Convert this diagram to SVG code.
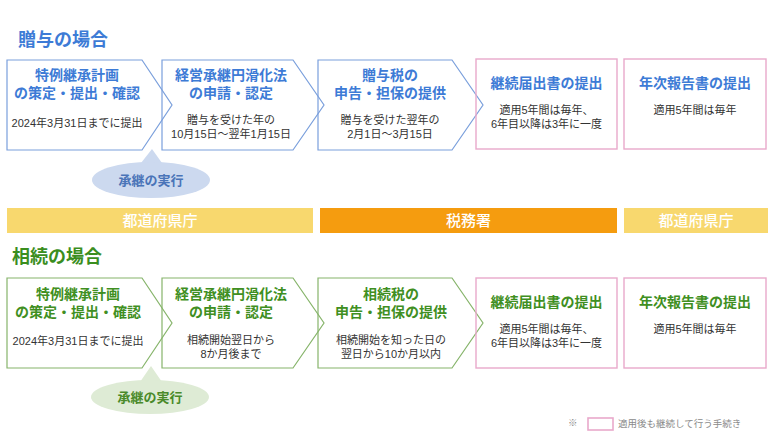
<svg xmlns="http://www.w3.org/2000/svg" width="780" height="438" viewBox="0 0 780 438">
<style>
text{font-family:"Liberation Sans","Noto Sans CJK JP",sans-serif;}
.bg{fill:#ffffff;}
.sec-b{font-size:18px;font-weight:700;fill:#3d7bd6;}
.sec-g{font-size:18px;font-weight:700;fill:#3a8e1e;}
.chev-b{fill:none;stroke:#7a9fdc;stroke-width:1.2;}
.chev-g{fill:none;stroke:#86b46a;stroke-width:1.2;}
.pink{fill:none;stroke:#e9a9cb;stroke-width:1.4;}
.tb{font-size:14px;font-weight:700;fill:#3d7bd6;text-anchor:middle;}
.tg{font-size:14px;font-weight:700;fill:#3f8f22;text-anchor:middle;}
.sub{font-size:11px;fill:#333333;text-anchor:middle;}
.band-y{fill:#f8d86e;}
.band-o{fill:#f59c0f;}
.band-t{font-family:"Noto Sans CJK JP",sans-serif;font-size:15px;font-weight:500;fill:#ffffff;text-anchor:middle;}
.bub-b{fill:#ccd9ef;}
.bub-g{fill:#deebd5;}
.bt-b{font-size:13px;font-weight:700;fill:#4a74b8;text-anchor:middle;}
.bt-g{font-size:13px;font-weight:700;fill:#4a8a2a;text-anchor:middle;}
.note{font-size:9.5px;fill:#8a8a8a;}
</style>
<rect class="bg" x="0" y="0" width="780" height="438"/>

<text class="sec-b" x="18" y="46">贈与の場合</text>
<text class="sec-g" x="12" y="263">相続の場合</text>

<g id="connectors"></g>

<!-- Gift row -->
<g id="g1">
<path class="chev-b" d="M7,60 H142 L172,105 L142,150 H7 Z"/>
<text class="tb" x="77" y="80">特例継承計画<tspan x="77" dy="18">の策定・提出・確認</tspan></text>
<text class="sub" x="77" y="127">2024年3月31日までに提出</text>
</g>
<g id="g2">
<path class="chev-b" d="M162,60 H293 L324,105 L293,150 H162 Z"/>
<text class="tb" x="231" y="80">経営承継円滑化法<tspan x="231" dy="18">の申請・認定</tspan></text>
<text class="sub" x="231" y="124">贈与を受けた年の<tspan x="231" dy="14">10月15日～翌年1月15日</tspan></text>
</g>
<g id="g3">
<path class="chev-b" d="M318,60 H452 L483,105 L452,150 H318 Z"/>
<text class="tb" x="390" y="80">贈与税の<tspan x="390" dy="18">申告・担保の提供</tspan></text>
<text class="sub" x="390" y="124">贈与を受けた翌年の<tspan x="390" dy="14">2月1日～3月15日</tspan></text>
</g>
<g id="g4">
<rect class="pink" x="476" y="59" width="141" height="90"/>
<text class="tb" x="546.5" y="88">継続届出書の提出</text>
<text class="sub" x="546.5" y="114">適用5年間は毎年、<tspan x="546.5" dy="14">6年目以降は3年に一度</tspan></text>
</g>
<g id="g5">
<rect class="pink" x="624" y="59" width="142" height="90"/>
<text class="tb" x="695" y="88">年次報告書の提出</text>
<text class="sub" x="695" y="114">適用5年間は毎年</text>
</g>
<g id="g-bubble">
<path class="bub-b" d="M141,163 L152,149 L162,163 Z"/>
<ellipse class="bub-b" cx="151" cy="180" rx="59" ry="18"/>
<text class="bt-b" x="151" y="185">承継の実行</text>
</g>

<!-- Bands -->
<g id="band1">
<rect class="band-y" x="7" y="208" width="306" height="25"/>
<text class="band-t" x="160" y="226">都道府県庁</text>
</g>
<g id="band2">
<rect class="band-o" x="320" y="208" width="297" height="25"/>
<text class="band-t" x="468.5" y="226">税務署</text>
</g>
<g id="band3">
<rect class="band-y" x="624" y="208" width="144" height="25"/>
<text class="band-t" x="696" y="226">都道府県庁</text>
</g>

<!-- Inheritance row -->
<g id="s1">
<path class="chev-g" d="M7,278 H142 L172,323 L142,368 H7 Z"/>
<text class="tg" x="78" y="299">特例継承計画<tspan x="78" dy="18">の策定・提出・確認</tspan></text>
<text class="sub" x="78" y="345">2024年3月31日までに提出</text>
</g>
<g id="s2">
<path class="chev-g" d="M162,278 H293 L324,323 L293,368 H162 Z"/>
<text class="tg" x="231" y="299">経営承継円滑化法<tspan x="231" dy="18">の申請・認定</tspan></text>
<text class="sub" x="231" y="344">相続開始翌日から<tspan x="231" dy="14">8か月後まで</tspan></text>
</g>
<g id="s3">
<path class="chev-g" d="M318,278 H452 L483,323 L452,368 H318 Z"/>
<text class="tg" x="391" y="299">相続税の<tspan x="391" dy="18">申告・担保の提供</tspan></text>
<text class="sub" x="391" y="344">相続開始を知った日の<tspan x="391" dy="14">翌日から10か月以内</tspan></text>
</g>
<g id="s4">
<rect class="pink" x="476" y="278" width="141" height="90"/>
<text class="tg" x="546.5" y="307">継続届出書の提出</text>
<text class="sub" x="546.5" y="333">適用5年間は毎年、<tspan x="546.5" dy="14">6年目以降は3年に一度</tspan></text>
</g>
<g id="s5">
<rect class="pink" x="624" y="278" width="142" height="90"/>
<text class="tg" x="695" y="307">年次報告書の提出</text>
<text class="sub" x="695" y="333">適用5年間は毎年</text>
</g>
<g id="s-bubble">
<path class="bub-g" d="M140,382 L151,366 L162,382 Z"/>
<ellipse class="bub-g" cx="150" cy="397" rx="59" ry="17"/>
<text class="bt-g" x="150" y="402">承継の実行</text>
</g>

<!-- Legend -->
<g id="legend">
<text class="note" x="568" y="426">※</text>
<rect class="pink" x="588" y="418" width="25" height="12" style="stroke-width:1.6"/>
<text class="note" x="618" y="427">適用後も継続して行う手続き</text>
</g>
</svg>
